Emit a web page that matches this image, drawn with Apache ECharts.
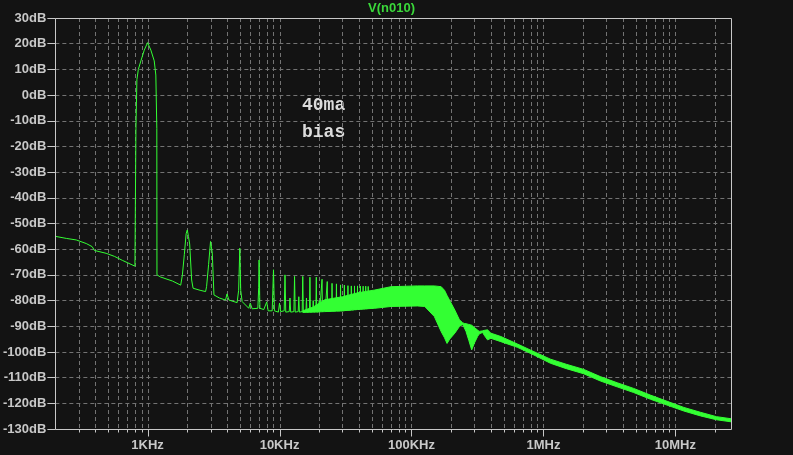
<!DOCTYPE html>
<html><head><meta charset="utf-8">
<script src="https://cdn.jsdelivr.net/npm/echarts@6/dist/echarts.min.js"></script>
<style>html,body{margin:0;padding:0;background:#131313}#c{width:793px;height:455px}</style>
</head><body><div id="c"></div>
<script>
// ---- data (LTspice FFT of V(n010)) ----
const traceHz = [200,242,288,343,380,396,485,561,647,802,816,816,830,851,890,944,1000,1059,1123,1155,1175,1178,1250,1544,1783,1836,1900,1960,2000,2040,2085,2158,2212,2500,2752,2800,2900,3000,3093,3184,3500,3897,4000,4134,4770,4900,5000,5080,5207,5847,6000,6200,6850,6950,7000,7100,7600,8000,8200,8800,9000,9150,9800,10000,10200,10850,11000,11150,11850,12000,12150,12850,13000,13150,13850,14000,14150,14850,15000,15150,15850,16000,16150,16850,17000,17150,17850,18000,18150,18850,19000,19150,19850,20000,20150,20850,21000,21150,21850,22000,22150,22850,23000,23150,24850,25000,25150,26850,27000,27150,28850,29000,29150,30850,31000,31150,32850,33000,33150,34850,35000,35150,36850,37000,37150,38850,39000,39150,40850,41000,41150,42850,43000,43150,44850,45000,45150,46850,47000,47150];
const traceDb = [-55.0,-55.8,-56.4,-57.8,-59.0,-60.5,-61.6,-62.8,-64.4,-66.6,-66.8,-13,6,10,13.3,17.5,20.4,17.5,13.3,7.8,-13,-70,-70.8,-72.4,-74,-70,-62,-54,-52.5,-55,-58,-72,-75.2,-76,-76.5,-74.6,-66,-57,-61.5,-77.8,-79,-79.8,-77.4,-79.8,-80.8,-76,-59.6,-76,-80.4,-83,-81,-83.2,-83,-75,-64.2,-83,-83.5,-80.5,-84,-84,-68,-84,-84.5,-81,-84.3,-84,-70,-84.5,-84.3,-79,-84.5,-84.3,-70.6,-84.5,-84.3,-78.5,-84.5,-84.3,-70.6,-84.5,-84.3,-79,-84.5,-84.3,-70.9,-84.5,-84.3,-80,-84.5,-84.3,-70.9,-84.5,-84.3,-80,-84.3,-84.2,-71.7,-84.3,-84.2,-80,-84.2,-84.2,-72.6,-84.2,-84.1,-73.3,-84.1,-84,-73.5,-84,-84,-73.9,-84,-83.9,-74,-83.9,-83.8,-74.2,-83.8,-83.7,-74.3,-83.7,-83.6,-74.3,-83.6,-83.5,-74.3,-83.5,-83.4,-74.4,-83.4,-83.3,-74.4,-83.3,-83.2,-74.4,-83.2,-83.1,-74.5,-83.1];

// dense harmonic region drawn as a filled band between two envelopes
const bandHz      = [15000,18000,22000,30000,39000,52700,70000,111000,126000,149000,168000,178000,186000,195000,213000,231000,244000,251000,259000,272000,286000,300000,317000,326000,346000,356000,377000,400000,476000,635000,848000,1130000,1490000,2020000,2700000,3620000,4830000,6460000,8650000,11600000,15500000,20500000,26400000];
const bandUpperDb = [-84,-82.5,-79.7,-78.5,-77,-75.9,-74.6,-74.3,-74.3,-74.3,-74.6,-76,-78,-80,-83.7,-87.5,-88.6,-88.9,-89,-89.3,-89.6,-90.5,-91.5,-92,-91.8,-91.6,-91.4,-92.7,-94,-96.9,-99.9,-102.8,-104.8,-106.8,-109.6,-112,-114.2,-116.8,-119.2,-121.6,-123.5,-125.2,-126];
const bandLowerDb = [-84.6,-84.5,-84.3,-84,-83.4,-83,-82.3,-82.1,-82.3,-86.2,-92.1,-94.5,-96.7,-95,-92.7,-90.1,-89.3,-90.5,-92,-95.5,-99.2,-96.5,-94,-93,-92.4,-93.5,-95.3,-94.7,-96,-98.2,-101.2,-104.4,-106.5,-108.5,-111.3,-113.6,-115.8,-118.4,-120.7,-123,-124.9,-126.4,-127.2];

const gridHz = [300,400,500,600,700,800,900,1000,2000,3000,4000,5000,6000,7000,8000,9000,10000,20000,30000,40000,50000,60000,70000,80000,90000,100000,200000,300000,400000,500000,600000,700000,800000,900000,1000000,2000000,3000000,4000000,5000000,6000000,7000000,8000000,9000000,10000000,20000000];
const xTickHz = [1e3,1e4,1e5,1e6,1e7];
const xTickLabels = ['1KHz','10KHz','100KHz','1MHz','10MHz'];
const xMinHz = 200, xMaxHz = 26.4e6;
const yMin = -130, yMax = 30, yStep = 10;

const GREEN = '#33ff33';
const AXIS = '#c8c8c8';
const GRIDC = '#737373';
const labelFont = {color: AXIS, fontFamily: 'Liberation Sans', fontWeight: 'bold', fontSize: 13};

const chart = echarts.init(document.getElementById('c'), null, {renderer: 'canvas'});
const option = {
  backgroundColor: '#131313',
  animation: false,
  grid: {left: 52, top: 18, width: 679, height: 411, show: false},
  xAxis: {
    type: 'log', logBase: 10, min: xMinHz, max: xMaxHz, splitNumber: 5,
    axisLine: {show: false}, axisTick: {show: false}, splitLine: {show: false},
    axisLabel: Object.assign({margin: 10, showMinLabel: false, showMaxLabel: false,
      formatter: v => { const i = xTickHz.findIndex(t => Math.abs(v / t - 1) < 1e-6); return i >= 0 ? xTickLabels[i] : ''; }}, labelFont)
  },
  yAxis: {
    type: 'value', min: yMin, max: yMax, interval: yStep,
    axisLine: {show: false},
    axisTick: {show: true, length: 8, lineStyle: {color: AXIS}},
    splitLine: {show: true, lineStyle: {color: GRIDC, type: [4, 3]}},
    axisLabel: Object.assign({margin: 9, formatter: v => v + 'dB'}, labelFont)
  },
  graphic: [
    {type: 'text', x: 391.5, y: 8, style: {text: 'V(n010)', fill: '#3ad83a', font: 'bold 13px "Liberation Sans"', align: 'center', verticalAlign: 'middle', textAlign: 'center', textVerticalAlign: 'middle'}},
    {type: 'text', x: 302, y: 105, style: {text: '40ma', fill: '#dcdcdc', font: 'bold 18px "Liberation Mono"', align: 'left', verticalAlign: 'middle', textAlign: 'left', textVerticalAlign: 'middle'}},
    {type: 'text', x: 302, y: 132, style: {text: 'bias', fill: '#dcdcdc', font: 'bold 18px "Liberation Mono"', align: 'left', verticalAlign: 'middle', textAlign: 'left', textVerticalAlign: 'middle'}}
  ],
  series: [
    { // vertical log grid lines + bottom ticks
      type: 'custom', z: 1, silent: true,
      data: gridHz.map(f => [f, yMin]),
      renderItem: (params, api) => {
        const f = api.value(0);
        const top = api.coord([f, yMax]);
        const bot = api.coord([f, yMin]);
        const x = Math.round(top[0]) + 0.5;
        const major = xTickHz.some(t => Math.abs(t / f - 1) < 1e-9);
        const yb = Math.round(bot[1]) + 0.5;
        return {type: 'group', children: [
          {type: 'line', shape: {x1: x, y1: top[1], x2: x, y2: bot[1]}, style: {stroke: GRIDC, lineWidth: 1, lineDash: [4, 3]}},
          {type: 'line', shape: {x1: x, y1: yb, x2: x, y2: yb + (major ? 7 : 3)}, style: {stroke: AXIS, lineWidth: 1}}
        ]};
      }
    },
    { // dense harmonic band
      type: 'custom', z: 2, silent: true,
      data: [[bandHz[0], bandUpperDb[0]]],
      renderItem: (params, api) => {
        const pts = [];
        for (let i = 0; i < bandHz.length; i++) pts.push(api.coord([bandHz[i], bandUpperDb[i]]));
        for (let i = bandHz.length - 1; i >= 0; i--) pts.push(api.coord([bandHz[i], bandLowerDb[i]]));
        return {type: 'polygon', shape: {points: pts, smooth: 0}, style: {fill: GREEN, stroke: GREEN, lineWidth: 1}};
      }
    },
    {
      type: 'line', z: 3, silent: true, showSymbol: false, symbol: 'none',
      data: traceHz.map((f, i) => [f, traceDb[i]]),
      lineStyle: {color: GREEN, width: 1}
    },
    { // plot frame
      type: 'custom', z: 10, silent: true,
      data: [[xMinHz, yMax]],
      renderItem: (params, api) => {
        const a = api.coord([xMinHz, yMax]);
        const b = api.coord([xMaxHz, yMin]);
        const x0 = Math.round(a[0]) + 0.5, y0 = Math.round(a[1]) + 0.5;
        const x1 = Math.round(b[0]) + 0.5, y1 = Math.round(b[1]) + 0.5;
        return {type: 'rect', shape: {x: x0, y: y0, width: x1 - x0, height: y1 - y0}, style: {fill: null, stroke: AXIS, lineWidth: 1}};
      }
    }
  ]
};
chart.setOption(option);
</script>
</body></html>
